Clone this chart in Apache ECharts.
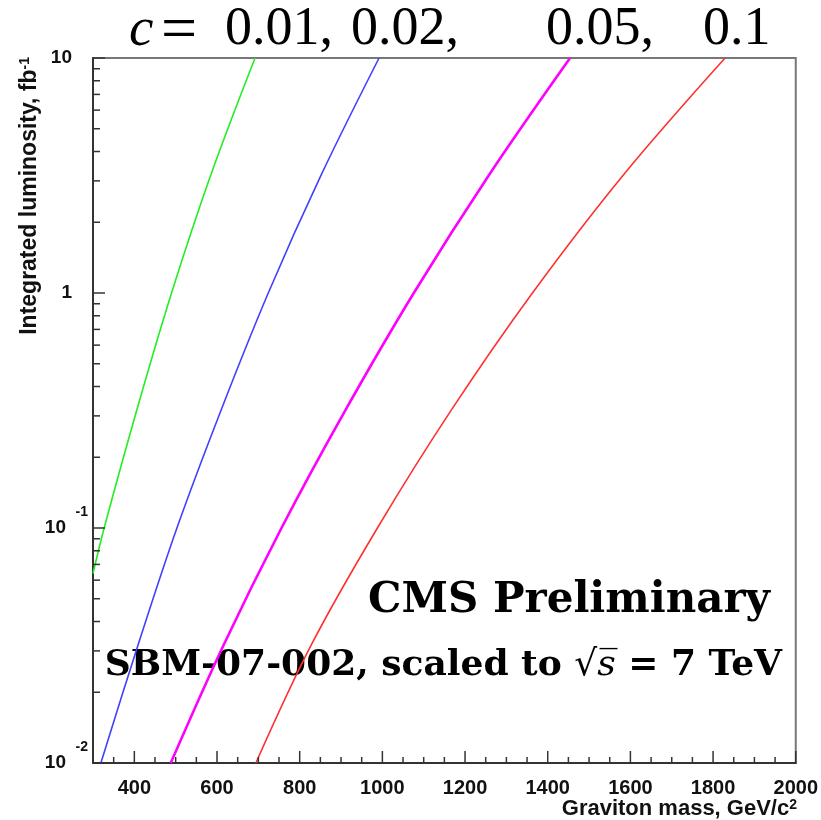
<!DOCTYPE html>
<html><head><meta charset="utf-8">
<script src="https://cdn.jsdelivr.net/npm/echarts@6/dist/echarts.min.js"></script>
<style>html,body{margin:0;padding:0;background:#fff}#c{width:821px;height:820px}</style>
</head><body><div id="c"></div>
<script>
// c = 0.01 (green)
const massC001 = [300, 327, 406, 490, 585, 692];
const lumiC001 = [0.064, 0.1, 0.318, 1, 3.18, 10];
// c = 0.02 (blue)
const massC002 = [319, 409, 503, 610, 724, 852, 992];
const lumiC002 = [0.01, 0.0318, 0.1, 0.318, 1, 3.18, 10];
// c = 0.05 (magenta)
const massC005 = [488, 616, 756, 911, 1076, 1258, 1454];
const lumiC005 = [0.01, 0.0318, 0.1, 0.318, 1, 3.18, 10];
// c = 0.1 (red)
const massC01 = [694, 828, 988, 1167, 1363, 1583, 1829];
const lumiC01 = [0.01, 0.0318, 0.1, 0.318, 1, 3.18, 10];

const xMajorTicks = [400, 600, 800, 1000, 1200, 1400, 1600, 1800, 2000];
const xMinorTicks = [350, 450, 500, 550, 650, 700, 750, 850, 900, 950, 1050, 1100, 1150, 1250, 1300, 1350, 1450, 1500, 1550, 1650, 1700, 1750, 1850, 1900, 1950];
const yMajorTicks = [0.01, 0.1, 1, 10];
const yMinorTicks = [0.02,0.03,0.04,0.05,0.06,0.07,0.08,0.09,0.2,0.3,0.4,0.5,0.6,0.7,0.8,0.9,2,3,4,5,6,7,8,9];
const yTickLabels = {0.01: '{s|-2}\n{b|10}\n{e| }', 0.1: '{s|-1}\n{b|10}\n{e| }', 1: '{p|1}', 10: '{p|10}'};

const chart = echarts.init(document.getElementById('c'), null, {renderer: 'canvas'});
const zip = (a, b) => a.map((v, i) => [v, b[i]]);
const AX = '#333';
const SANS = '"Liberation Sans", Arial, sans-serif';
function tickSeries(vals, isX, len) {
  return {
    type: 'custom', silent: true, clip: false, z: 5,
    data: vals.map(v => isX ? [v, 0.01] : [300, v]),
    renderItem: (params, api) => {
      const p = api.coord([api.value(0), api.value(1)]);
      const shape = isX ? {x1: p[0], y1: p[1], x2: p[0], y2: p[1] - len}
                        : {x1: p[0], y1: p[1], x2: p[0] + len, y2: p[1]};
      return {type: 'line', shape, style: {stroke: AX, lineWidth: 1.5}};
    }
  };
}
function curve(x, y, color, w) {
  return {type: 'line', data: zip(x, y), smooth: 0.35, showSymbol: false, symbol: 'none',
          lineStyle: {color, width: w}, z: 3, silent: true};
}
const serif = (s, it) => (it ? 'italic ' : '') + s + 'px "Liberation Serif", serif';
chart.setOption({
  animation: false,
  backgroundColor: '#fff',
  grid: {left: 93, right: 24, top: 58, bottom: 57, show: true, borderColor: '#777', borderWidth: 2, backgroundColor: 'transparent'},
  xAxis: {
    type: 'value', min: 300, max: 2000, interval: 100,
    axisLine: {show: true, lineStyle: {color: AX, width: 2}},
    axisTick: {show: false}, splitLine: {show: false},
    axisLabel: {
      margin: 15, color: '#111', fontFamily: SANS, fontWeight: 'bold', fontSize: 20,
      formatter: v => (v % 200 === 0 ? String(v) : ''), showMinLabel: true, showMaxLabel: true
    }
  },
  yAxis: {
    type: 'log', logBase: 10, min: 0.01, max: 10,
    axisLine: {show: true, lineStyle: {color: AX, width: 2}},
    axisTick: {show: false}, splitLine: {show: false}, minorTick: {show: false},
    axisLabel: {
      margin: 5, color: '#111', align: 'right',
      formatter: v => yTickLabels[Number(v.toPrecision(3))] || '',
      rich: {
        p: {fontFamily: SANS, fontWeight: 'bold', fontSize: 19, lineHeight: 19, padding: [0, 16, 0, 0], align: 'right'},
        b: {fontFamily: SANS, fontWeight: 'bold', fontSize: 19, lineHeight: 19, padding: [0, 22, 0, 0], align: 'right'},
        s: {fontFamily: SANS, fontWeight: 'bold', fontSize: 14, lineHeight: 13, align: 'right'},
        e: {fontSize: 10, lineHeight: 13}
      }
    }
  },
  graphic: [
    {type: 'text', left: 129, top: 3, style: {text: 'c', font: serif(55, true), fill: '#000'}},
    {type: 'text', left: 161, top: 0, style: {text: '=', font: serif(64), fill: '#000'}},
    {type: 'text', left: 225, top: 3, style: {text: '0.01,', font: serif(54), fill: '#000'}},
    {type: 'text', left: 351, top: 3, style: {text: '0.02,', font: serif(54), fill: '#000'}},
    {type: 'text', left: 546, top: 3, style: {text: '0.05,', font: serif(54), fill: '#000'}},
    {type: 'text', left: 703, top: 3, style: {text: '0.1', font: serif(54), fill: '#000'}},
    {type: 'text', right: 51, top: 580, style: {text: 'CMS Preliminary', font: 'bold 42px "DejaVu Serif", serif', fill: '#000'}},
    {type: 'text', right: 39, top: 648, style: {
      text: '{b|SBM-07-002, scaled to }{i|√s\u0305}{b| = 7 TeV}',
      rich: {
        b: {font: 'bold 36px "DejaVu Serif", serif', fill: '#000'},
        i: {font: 'italic 36px "DejaVu Serif", serif', fill: '#000'}
      }
    }},
    {type: 'text', x: 30, y: 57, rotation: Math.PI / 2, style: {
      text: '{t|Integrated luminosity, fb}{s|-1}', align: 'right', verticalAlign: 'middle',
      rich: {
        t: {font: 'bold 23px ' + SANS, fill: '#111', lineHeight: 23, verticalAlign: 'bottom', padding: [8, 0, 0, 0]},
        s: {font: 'bold 14px ' + SANS, fill: '#111', lineHeight: 14, verticalAlign: 'top'}
      }
    }},
    {type: 'text', right: 24, top: 792, style: {
      text: '{t|Graviton mass, GeV/c}{s|2}',
      rich: {
        t: {font: 'bold 22px ' + SANS, fill: '#111', lineHeight: 22, verticalAlign: 'bottom', padding: [6, 0, 0, 0]},
        s: {font: 'bold 14px ' + SANS, fill: '#111', lineHeight: 14, verticalAlign: 'top'}
      }
    }}
  ],
  series: [
    curve(massC001, lumiC001, '#22ee22', 1.6),
    curve(massC002, lumiC002, '#4040ff', 1.6),
    curve(massC005, lumiC005, '#ff00ff', 2.6),
    curve(massC01, lumiC01, '#ff3030', 1.6),
    tickSeries(xMajorTicks, true, 12),
    tickSeries(xMinorTicks, true, 6),
    tickSeries(yMajorTicks, false, 12),
    tickSeries(yMinorTicks, false, 7)
  ]
});
</script></body></html>
